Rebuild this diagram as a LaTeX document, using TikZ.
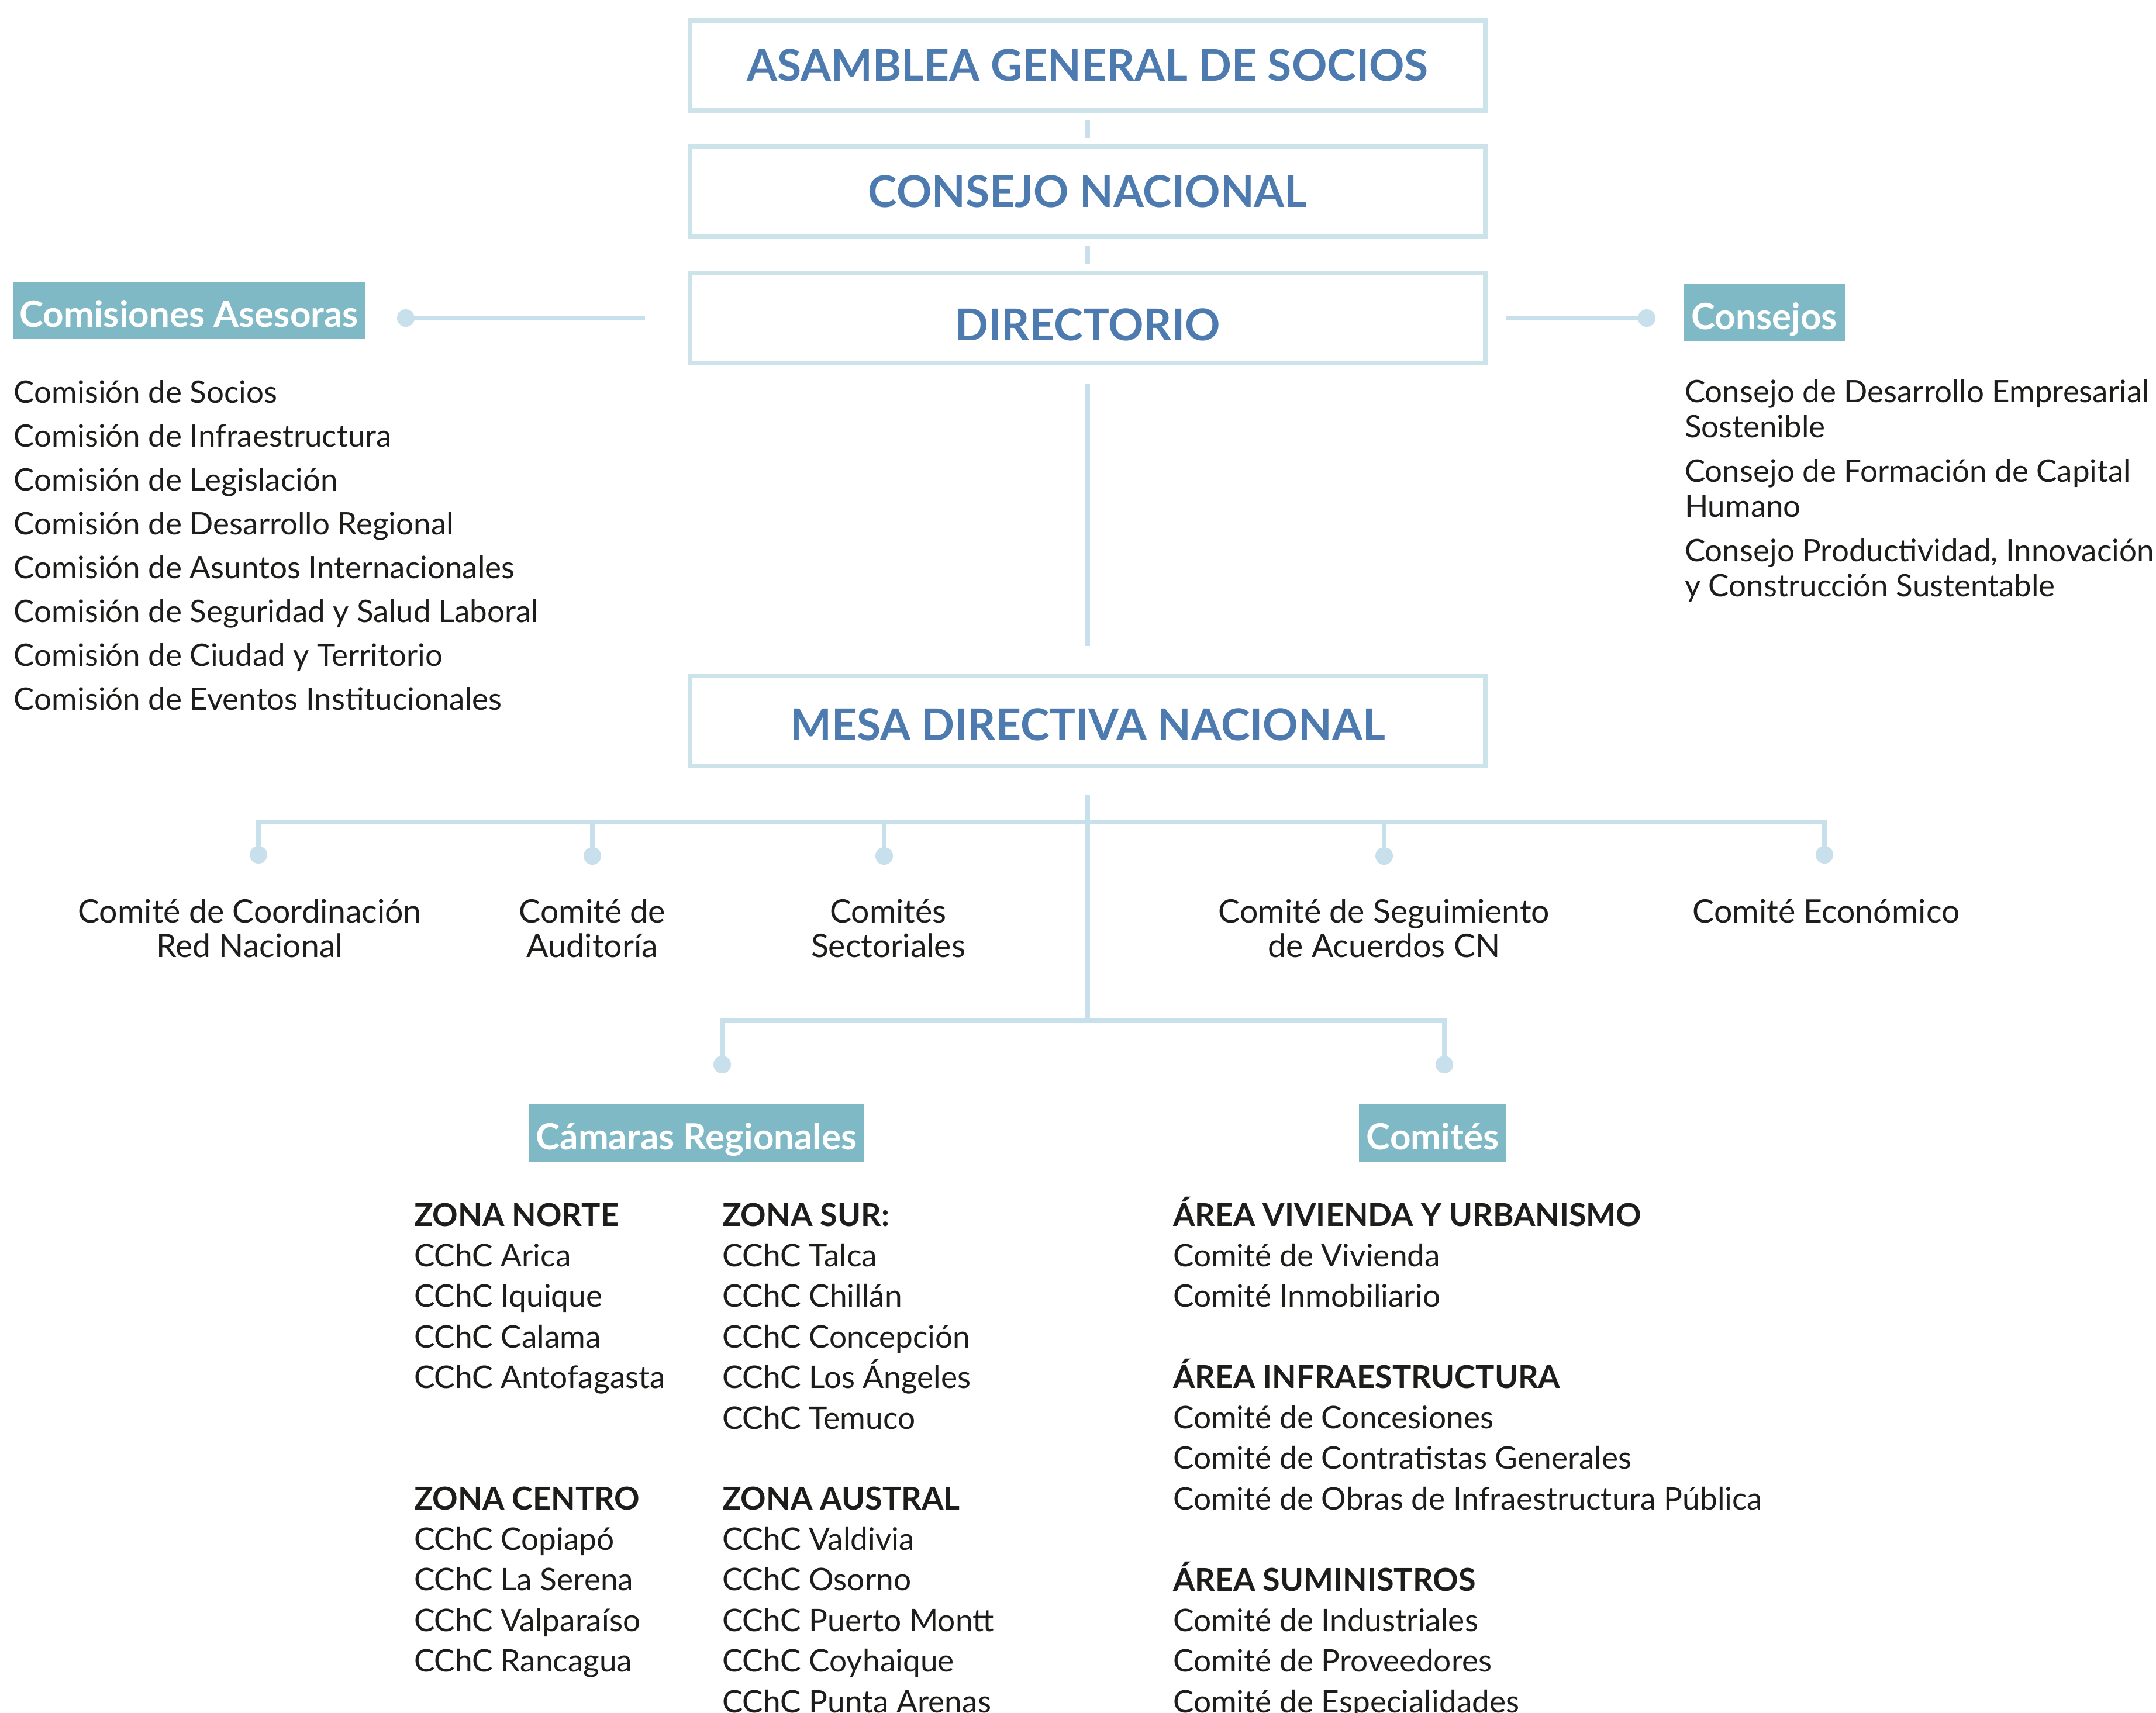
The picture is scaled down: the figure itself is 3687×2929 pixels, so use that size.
\documentclass[tikz,border=0pt]{standalone}
\usepackage{fontspec}
\setmainfont{Lato}
\definecolor{boxline}{HTML}{CCE3EA}
\definecolor{connc}{HTML}{C8E0EB}
\definecolor{teal}{HTML}{7FB9C5}
\definecolor{titleblue}{HTML}{4D7BB0}
\definecolor{txt}{HTML}{1D1D1B}
\newcommand{\stackL}[2]{\vtop{\baselineskip=#1\lineskiplimit=-100pt\lineskip=0pt\halign{##\hfil\cr#2\crcr}}}
\newcommand{\stackC}[2]{\vtop{\baselineskip=#1\lineskiplimit=-100pt\lineskip=0pt\halign{\hfil##\hfil\cr#2\crcr}}}
\newcommand{\hd}[1]{{\fontsize{15.35pt}{19pt}\selectfont\bfseries #1}}
\begin{document}
\begin{tikzpicture}[x=0.01cm,y=-0.01cm,
  titlebox/.style={draw=boxline, line width=0.08cm, minimum width=13.6cm, minimum height=1.54cm,
    inner sep=0pt, outer sep=0pt, text=titleblue, font=\bfseries\fontsize{21.3pt}{24pt}\selectfont,
    text height=15.3pt, text depth=0pt},
  tag/.style={fill=teal, text=white, inner sep=0pt, outer sep=0pt, minimum height=0.98cm,
    font=\bfseries\fontsize{17.6pt}{20pt}\selectfont, text height=16pt, text depth=0pt},
  body/.style={inner sep=0pt, outer sep=0pt, text=txt, font=\fontsize{15.05pt}{18pt}\selectfont},
  lbl/.style={inner sep=0pt, outer sep=0pt, text=txt, font=\fontsize{15.75pt}{19pt}\selectfont},
  low/.style={inner sep=0pt, outer sep=0pt, text=txt, font=\fontsize{15.13pt}{19pt}\selectfont},
  conn/.style={draw=connc, line width=0.075cm},
  dot/.style={circle, fill=connc, inner sep=0pt, outer sep=0pt, minimum size=0.3cm}]
\useasboundingbox (0,0) rectangle (3687,2929);
\clip (0,0) rectangle (3687,2929);
\fill[white] (0,0) rectangle (3687,2929);

% main boxes
\node[titlebox] (b1) at (1860,112) {ASAMBLEA GENERAL DE SOCIOS};
\node[titlebox] (b2) at (1860,328) {CONSEJO NACIONAL};
\node[titlebox, text height=22.1pt] (b3) at (1860,544) {DIRECTORIO};
\node[titlebox, text height=19.3pt] (b4) at (1860,1233) {MESA DIRECTIVA NACIONAL};

\draw[conn, shorten <=0.16cm, shorten >=0.15cm] (b1.south) -- (b2.north);
\draw[conn, shorten <=0.16cm, shorten >=0.15cm] (b2.south) -- (b3.north);
\draw[conn, shorten <=0.35cm, shorten >=0.51cm] (b3.south) -- (b4.north);

% side groups
\node[tag, minimum width=6.02cm] (ca) at (323,531) {Comisiones Asesoras};
\node[tag, minimum width=2.75cm] (cs) at (3017,535) {Consejos};
\node[dot] (dl) at (694,544) {};
\node[dot] (dr) at (2816,544) {};
\draw[conn, shorten <=0.77cm] (b3.west) -- (dl.center);
\draw[conn, shorten <=0.35cm] (b3.east) -- (dr.center);

\node[body, anchor=base west] (lcom) at (24,689) {\stackL{21.34pt}{Comisión de Socios\cr
Comisión de Infraestructura\cr
Comisión de Legislación\cr
Comisión de Desarrollo Regional\cr
Comisión de Asuntos Internacionales\cr
Comisión de Seguridad y Salud Laboral\cr
Comisión de Ciudad y Territorio\cr
Comisión de Eventos Institucionales}};

\node[body, anchor=base west] (rc1) at (2881,688) {\stackL{17.2pt}{Consejo de Desarrollo Empresarial\cr Sostenible}};
\node[body, anchor=base west] (rc2) at (2881,824) {\stackL{17.2pt}{Consejo de Formación de Capital\cr Humano}};
\node[body, anchor=base west] (rc3) at (2881,960) {\stackL{17.2pt}{Consejo Productividad, Innovación\cr y Construcción Sustentable}};

% committees under Mesa
\coordinate (hub) at (1860,1406);
\coordinate (hub2) at (1860,1745);
\node[dot] (d1) at (442,1462) {};
\node[dot] (d2) at (1013,1464) {};
\node[dot] (d3) at (1512,1464) {};
\node[dot] (d4) at (2367,1464) {};
\node[dot] (d5) at (3120,1462) {};
\draw[conn, shorten <=0.49cm] (b4.south) -- (hub2);
\draw[conn] (d1.center) -- (d1 |- hub) -- (d5 |- hub) -- (d5.center);
\draw[conn] (d2.center) -- (d2 |- hub);
\draw[conn] (d3.center) -- (d3 |- hub);
\draw[conn] (d4.center) -- (d4 |- hub);

\node[lbl, anchor=base] (t1) at (427,1578) {\stackC{16.8pt}{Comité de Coordinación\cr Red Nacional}};
\node[lbl, anchor=base] (t2) at (1013,1578) {\stackC{16.8pt}{Comité de\cr Auditoría}};
\node[lbl, anchor=base] (t3) at (1519,1578) {\stackC{16.8pt}{Comités\cr Sectoriales}};
\node[lbl, anchor=base] (t4) at (2367,1578) {\stackC{16.8pt}{Comité de Seguimiento\cr de Acuerdos CN}};
\node[lbl, anchor=base] (t5) at (3123,1578) {\stackC{16.8pt}{Comité Económico}};

% lower branch
\node[dot] (e1) at (1235,1821) {};
\node[dot] (e2) at (2470,1821) {};
\draw[conn] (e1.center) -- (e1 |- hub2) -- (e2 |- hub2) -- (e2.center);

\node[tag, minimum width=5.72cm] (cr) at (1191,1938) {Cámaras Regionales};
\node[tag, minimum width=2.52cm] (ct) at (2450,1938) {Comités};

\node[low, anchor=base west] (zn) at (708,2097) {\stackL{19.75pt}{\hd{ZONA NORTE}\cr
CChC Arica\cr CChC Iquique\cr CChC Calama\cr CChC Antofagasta}};
\node[low, anchor=base west] (zc) at (708,2582) {\stackL{19.75pt}{\hd{ZONA CENTRO}\cr
CChC Copiapó\cr CChC La Serena\cr CChC Valparaíso\cr CChC Rancagua}};
\node[low, anchor=base west] (zs) at (1235,2097) {\stackL{19.75pt}{\hd{ZONA SUR:}\cr
CChC Talca\cr CChC Chillán\cr CChC Concepción\cr CChC Los Ángeles\cr CChC Temuco}};
\node[low, anchor=base west] (za) at (1235,2582) {\stackL{19.75pt}{\hd{ZONA AUSTRAL}\cr
CChC Valdivia\cr CChC Osorno\cr CChC Puerto Montt\cr CChC Coyhaique\cr CChC Punta Arenas}};

\node[low, anchor=base west] (a1) at (2006,2097) {\stackL{19.75pt}{\hd{ÁREA VIVIENDA Y URBANISMO}\cr
Comité de Vivienda\cr Comité Inmobiliario}};
\node[low, anchor=base west] (a2) at (2006,2374) {\stackL{19.75pt}{\hd{ÁREA INFRAESTRUCTURA}\cr
Comité de Concesiones\cr Comité de Contratistas Generales\cr Comité de Obras de Infraestructura Pública}};
\node[low, anchor=base west] (a3) at (2006,2721) {\stackL{19.75pt}{\hd{ÁREA SUMINISTROS}\cr
Comité de Industriales\cr Comité de Proveedores\cr Comité de Especialidades}};
\end{tikzpicture}
\end{document}
